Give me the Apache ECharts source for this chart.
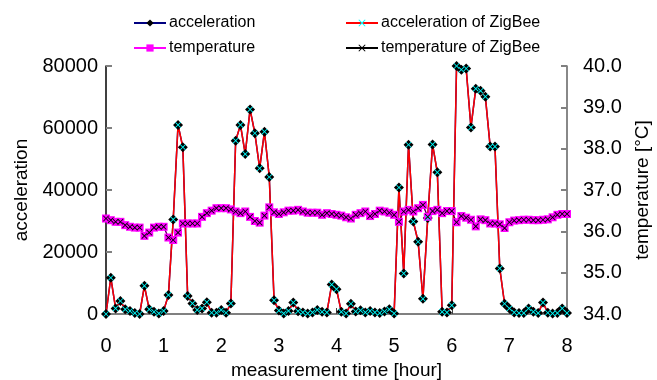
<!DOCTYPE html>
<html>
<head>
<meta charset="utf-8">
<script src="https://cdn.jsdelivr.net/npm/echarts@6/dist/echarts.min.js"></script>
<style>
  html, body { margin: 0; padding: 0; background: #fff; }
  #chart { width: 657px; height: 380px; }
</style>
</head>
<body>
<div id="chart"></div>
<script>
// samples every 5 minutes, 0 .. 8 hours
const accel = [
  0, 11700, 1800, 4200, 1500, 1000, 300, 0, 9100, 1500,
  700, 200, 1000, 6100, 30500, 61000, 53800, 5800, 3400, 1300,
  1800, 3800, 400, 400, 1300, 400, 3400, 55900, 61000, 51600,
  66000, 58300, 47000, 58800, 44200, 4400, 1100, 200, 1000, 3700,
  900, 500, 200, 500, 1300, 700, 500, 9500, 8000, 700,
  200, 3300, 800, 1200, 500, 1000, 500, 300, 800, 1500,
  200, 40800, 13100, 54600, 29800, 23300, 4900, 31000, 54700, 45700,
  700, 500, 2800, 80000, 78800, 79200, 60200, 72700, 72000, 70100,
  54000, 54000, 14700, 3300, 1800, 500, 300, 300, 1800, 700,
  300, 3700, 400, 200, 300, 1800, 300
]
const temp = [
  36.31, 36.27, 36.23, 36.23, 36.15, 36.11, 36.09, 36.09, 35.89, 35.97,
  36.09, 36.11, 36.11, 35.85, 35.79, 35.97, 36.19, 36.19, 36.19, 36.19,
  36.35, 36.44, 36.50, 36.56, 36.56, 36.56, 36.53, 36.48, 36.44, 36.48,
  36.35, 36.25, 36.21, 36.38, 36.58, 36.46, 36.42, 36.46, 36.50, 36.50,
  36.52, 36.48, 36.45, 36.45, 36.45, 36.40, 36.44, 36.42, 36.40, 36.38,
  36.34, 36.31, 36.40, 36.44, 36.48, 36.37, 36.42, 36.50, 36.48, 36.45,
  36.40, 36.23, 36.48, 36.52, 36.48, 36.56, 36.64, 36.35, 36.49, 36.52,
  36.44, 36.49, 36.49, 36.22, 36.37, 36.33, 36.28, 36.12, 36.29, 36.27,
  36.19, 36.19, 36.17, 36.08, 36.22, 36.26, 36.27, 36.28, 36.28, 36.27,
  36.27, 36.28, 36.29, 36.34, 36.40, 36.42, 36.42
]
// ZigBee readings overlay the same samples
const accelZigBee = accel
const tempZigBee = temp
const hours = accel.map((_, i) => i / 12)

const pair = arr => arr.map((v, i) => [hours[i], v])

const font = 'Liberation Sans, Arial, sans-serif'
const xMark = 'path://M1,0L5,4L9,0L10,1L6,5L10,9L9,10L5,6L1,10L0,9L4,5L0,1Z'

const chart = echarts.init(document.getElementById('chart'))

const legendBase = {
  orient: 'vertical',
  top: 10,
  itemWidth: 32,
  itemHeight: 9,
  itemGap: 9,
  textStyle: { fontFamily: font, fontSize: 16, color: '#000', padding: [0, 0, 0, -2] }
}

chart.setOption({
  animation: false,
  textStyle: { fontFamily: font },
  legend: [
    Object.assign({ left: 128, data: ['acceleration', 'temperature'] }, legendBase),
    Object.assign({ left: 340, data: ['acceleration of ZigBee', 'temperature of ZigBee'] }, legendBase)
  ],
  grid: { left: 106, right: 90, top: 66, bottom: 66, outerBoundsMode: 'none' },
  xAxis: {
    type: 'value',
    min: 0,
    max: 8,
    interval: 1,
    name: 'measurement time [hour]',
    nameLocation: 'middle',
    nameGap: 46,
    nameTextStyle: { fontSize: 19, color: '#000' },
    axisLine: { lineStyle: { color: '#808080', width: 2 } },
    axisTick: { inside: true, length: 6, lineStyle: { color: '#404040' } },
    axisLabel: { fontSize: 20, color: '#000', margin: 22 },
    splitLine: { show: false }
  },
  yAxis: [
    {
      type: 'value',
      min: 0,
      max: 80000,
      interval: 20000,
      name: 'acceleration',
      nameLocation: 'middle',
      nameGap: 61,
      nameTextStyle: { fontSize: 19, color: '#000' },
      axisLine: { show: true, lineStyle: { color: '#000', width: 1.5 } },
      axisTick: { show: true, inside: true, length: 6, lineStyle: { color: '#808080', width: 2 } },
      axisLabel: { fontSize: 20, color: '#000', margin: 8, formatter: v => String(v) },
      splitLine: { show: false }
    },
    {
      type: 'value',
      min: 34,
      max: 40,
      interval: 1,
      position: 'right',
      name: 'temperature [°C]',
      nameLocation: 'middle',
      nameGap: 62,
      nameTextStyle: { fontSize: 19, color: '#000' },
      axisLine: { show: true, lineStyle: { color: '#606060', width: 1.5 } },
      axisTick: { show: true, inside: true, length: 6, lineStyle: { color: '#808080', width: 2 } },
      axisLabel: { fontSize: 20, color: '#000', margin: 16, formatter: v => v.toFixed(1) },
      splitLine: { show: false }
    }
  ],
  series: [
    {
      name: 'acceleration',
      type: 'line',
      yAxisIndex: 0,
      data: pair(accel),
      clip: false,
      symbol: 'diamond',
      symbolSize: 10,
      itemStyle: { color: '#000' },
      lineStyle: { color: '#000080', width: 1.5 }
    },
    {
      name: 'temperature',
      type: 'line',
      yAxisIndex: 1,
      data: pair(temp),
      symbol: 'rect',
      symbolSize: 8,
      itemStyle: { color: '#ff00ff' },
      lineStyle: { color: '#ff00ff', width: 1.5 }
    },
    {
      name: 'acceleration of ZigBee',
      type: 'line',
      yAxisIndex: 0,
      data: pair(accelZigBee),
      clip: false,
      symbol: xMark,
      symbolSize: 6,
      itemStyle: { color: '#00ffff' },
      lineStyle: { color: '#ff0000', width: 1.5 }
    },
    {
      name: 'temperature of ZigBee',
      type: 'line',
      yAxisIndex: 1,
      data: pair(tempZigBee),
      symbol: xMark,
      symbolSize: 6,
      itemStyle: { color: '#000' },
      lineStyle: { color: '#000', width: 0.8 }
    }
  ]
})
</script>
</body>
</html>
